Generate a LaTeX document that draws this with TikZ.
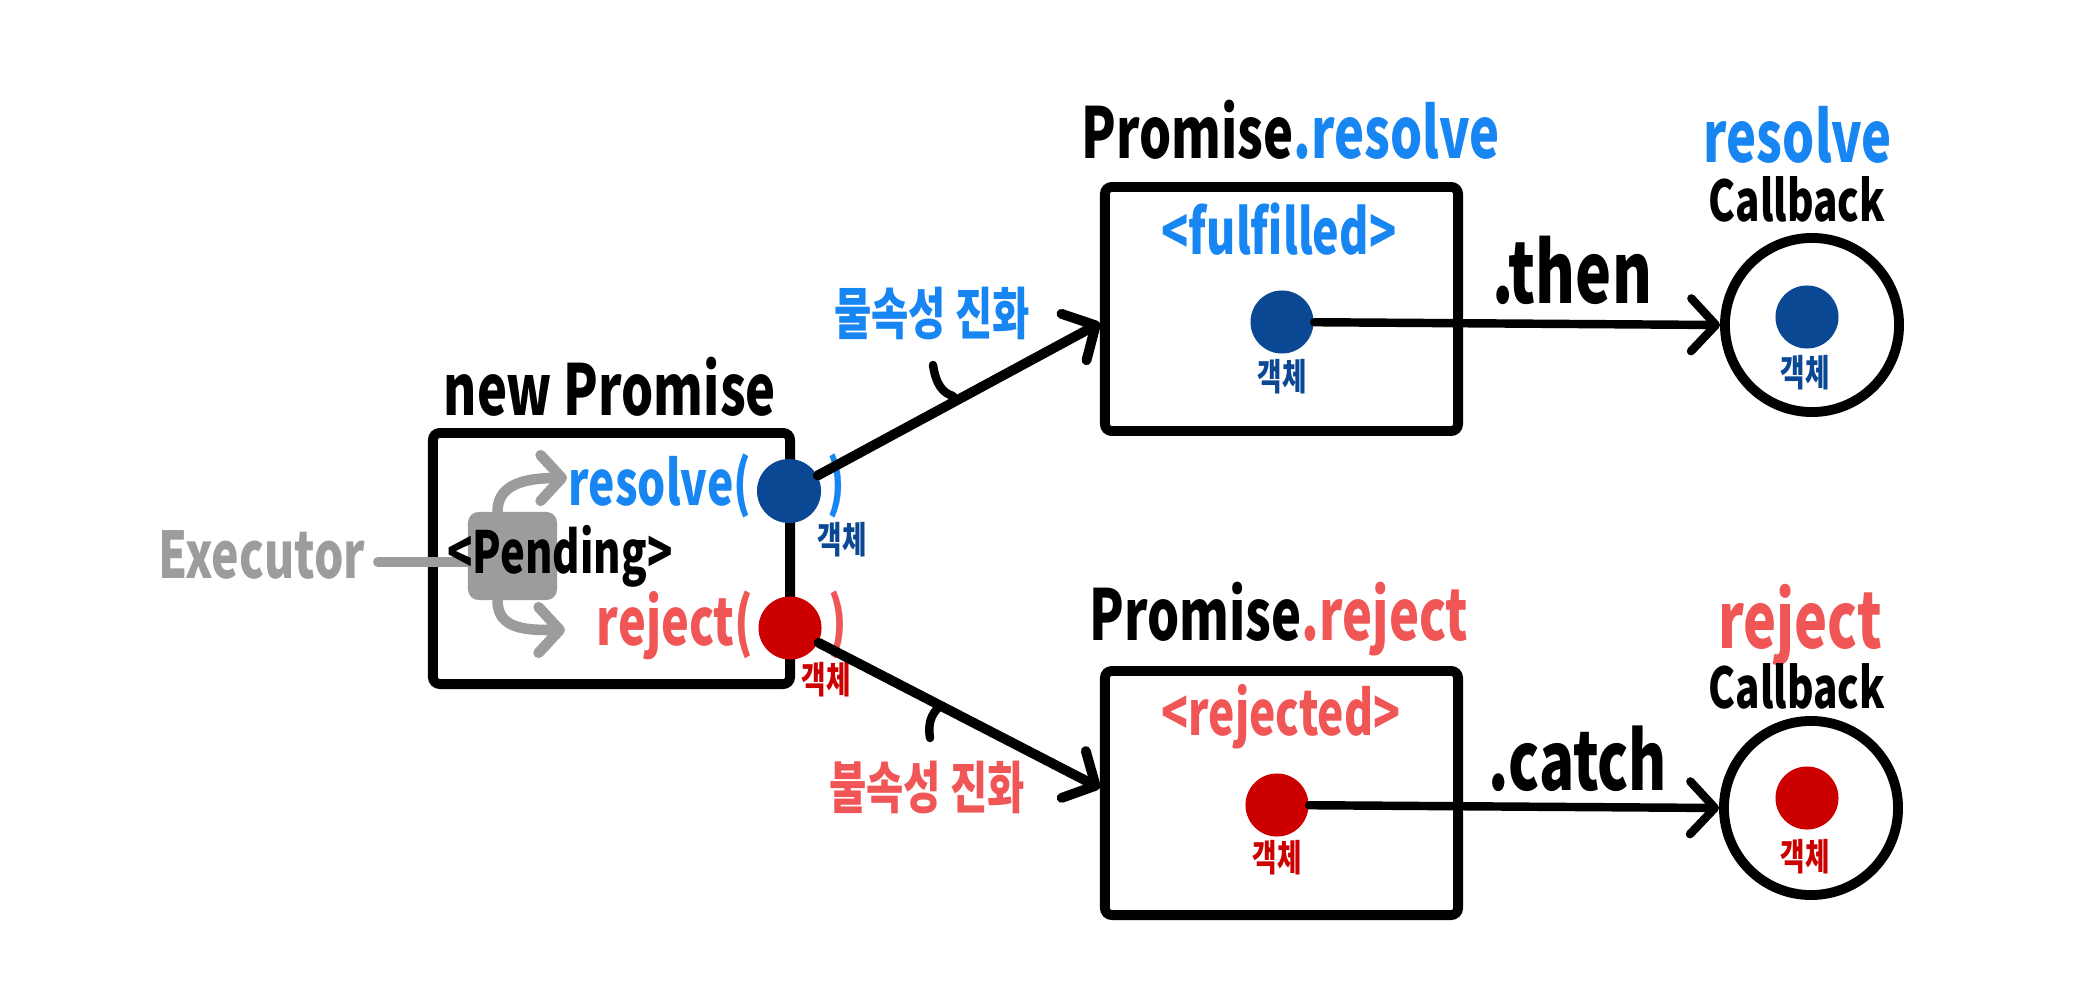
\documentclass[tikz,border=0pt]{standalone}
\usepackage{fontspec}
\setmainfont[FakeStretch=0.72]{Noto Sans CJK KR}
\usetikzlibrary{arrows.meta,calc}
\definecolor{tblue}{RGB}{24,134,242}
\definecolor{dblue}{RGB}{11,72,148}
\definecolor{tred}{RGB}{240,86,86}
\definecolor{dred}{RGB}{205,0,0}
\definecolor{gry}{RGB}{156,156,156}
\newcommand{\fsz}[1]{\fontsize{#1}{#1}\selectfont\bfseries}
\tikzset{
  box/.style={draw, line width=2.8pt, rounded corners=2pt, inner sep=0pt},
  ring/.style={draw, circle, line width=2.8pt, inner sep=0pt, minimum size=17.4mm},
  conn/.style={line width=2.8pt, line cap=round, -{Straight Barb[length=7pt,width=15pt,round]}},
  hl/.style={line width=2.4pt, line cap=round, -{Straight Barb[length=7pt,width=15pt,round]}},
  tickmark/.style={line width=2.4pt, line cap=round},
  bdotst/.style={circle, fill=dblue, inner sep=0pt, minimum size=6.3mm},
  rdotst/.style={circle, fill=dred, inner sep=0pt, minimum size=6.3mm},
  txt/.style={inner sep=0pt, anchor=base},
  obj/.style={inner sep=0pt, font=\fsz{10.5}},
  gline/.style={draw=gry, line width=2.8pt, line cap=round},
  garrow/.style={draw=gry, line width=3pt, line cap=round, -{Straight Barb[length=6pt,width=13pt,round]}},
}
\begin{document}
\begin{tikzpicture}[x=0.01cm,y=-0.01cm]
\useasboundingbox[fill=white] (0,0) rectangle (2093,1000);

% boxes
\node[box, minimum width=35.7mm, minimum height=25.1mm] (lbox) at (611.5,558.5) {};
\node[box, minimum width=35.3mm, minimum height=24.4mm] (tbox) at (1281.5,309) {};
\node[box, minimum width=35.3mm, minimum height=24.4mm] (bbox) at (1281.5,793) {};
\node[ring] (tcirc) at (1812,325) {};
\node[ring] (bcirc) at (1811,808) {};

% titles
\node[txt] (tnp) at (610,415) {\fsz{20}new Promise};
\node[txt] (tpr) at (1291,158) {\fsz{20}Promise\textcolor{tblue}{.resolve}};
\node[txt] (tpj) at (1279,640) {\fsz{20}Promise\textcolor{tred}{.reject}};

% executor / pending
\node[fill=gry, rounded corners=3pt, minimum width=8.9mm, minimum height=8.8mm, inner sep=0pt] (gsq) at (512.5,556) {};
\node[txt, text=gry] (exe) at (262,578) {\fsz{18.3}Executor};
\coordinate (exs) at (378,562);
\draw[gline] (exs) -- (gsq.west |- exs);
\draw[garrow] ($(gsq.north)+(-15,0)$) .. controls +(0,-30) and +(-35,0) .. (567,478);
\draw[garrow] ($(gsq.south)+(-15,0)$) .. controls +(0,30) and +(-35,0) .. (565,630);
\node[txt] (pend) at (560,573) {\fsz{16.5}<Pending>};
\node[txt, text=tblue, anchor=base east] (res) at (752,505) {\fsz{17.5}resolve(};
\node[txt, text=tred, anchor=base east] (rej) at (754,645) {\fsz{18.5}reject(};
\node[txt, text=tblue] (resp) at (836,505) {\fsz{17.5})};
\node[txt, text=tred] (rejp) at (838,645) {\fsz{18.5})};

% dots
\node[bdotst, minimum size=6.4mm] (ldb) at (789,491) {};
\node[rdotst] (ldr) at (790,628) {};
\node[obj, text=dblue] (o1) at (842,540) {객체};
\node[obj, text=dred] (o2) at (826,680) {객체};
\node[bdotst] (tdot) at (1282,322) {};
\node[rdotst] (bdot) at (1277,805) {};
\node[obj, text=dblue] (o3) at (1282,377) {객체};
\node[obj, text=dred] (o4) at (1277,858) {객체};
\node[bdotst] (tcd) at (1807,317) {};
\node[rdotst] (bcd) at (1807,798) {};
\node[obj, text=dblue] (o5) at (1805,373) {객체};
\node[obj, text=dred] (o6) at (1805,857) {객체};

% inner texts
\node[txt, text=tblue] (ful) at (1279,254) {\fsz{17.7}<fulfilled>};
\node[txt, text=tred] (rjd) at (1281,735) {\fsz{17.5}<rejected>};

% connectors
\coordinate (tin) at (1100,323);
\coordinate (bin) at (1100,788);
\draw[conn] (ldb) -- (tbox.west |- tin);
\draw[conn] (ldr) -- (bbox.west |- bin);
\draw[tickmark] (933,365) .. controls (936,385) and (943,393) .. (953,396);
\draw[tickmark] (940,706) .. controls (930,715) and (928,725) .. (930,738);
\node[inner sep=0pt, text=tblue] (k1) at (932,313) {\fsz{16}물속성 진화};
\node[inner sep=0pt, text=tred] (k2) at (927,787) {\fsz{16}불속성 진화};

\draw[hl] (tdot) -- (tcirc.west);
\draw[hl] (bdot) -- (bcirc.west);
\node[txt] (then) at (1572,303) {\fsz{24}.then};
\node[txt] (catch) at (1578,790) {\fsz{23}.catch};

% callback labels
\node[txt, text=tblue] (rcb) at (1798,162) {\fsz{20}resolve};
\node[txt] (cb1) at (1797,221) {\fsz{16}Callback};
\node[txt, text=tred] (jcb) at (1800,648) {\fsz{22}reject};
\node[txt] (cb2) at (1797,708) {\fsz{16}Callback};
\end{tikzpicture}
\end{document}
